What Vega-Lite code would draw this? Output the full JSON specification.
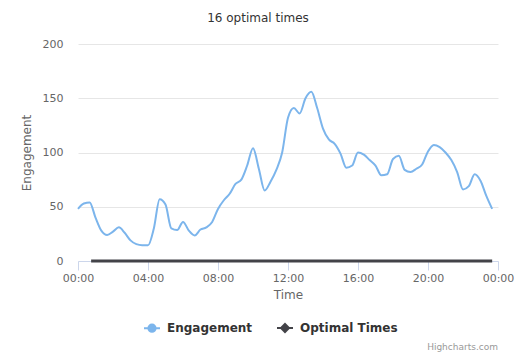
{
  "$schema": "https://vega.github.io/schema/vega-lite/v6.json",
  "width": 420,
  "height": 217,
  "autosize": {"type": "none"},
  "padding": {"left": 78, "top": 44, "right": 17, "bottom": 103},
  "background": "#ffffff",
  "config": {
    "font": "DejaVu Sans",
    "view": {"stroke": null}
  },
  "title": {
    "text": "16 optimal times",
    "fontSize": 12,
    "fontWeight": "normal",
    "color": "#333333",
    "font": "DejaVu Sans",
    "offset": 13,
    "dx": -30
  },
  "data": {
    "values": [
      {"time": "2024-01-01T00:00", "series": "Engagement", "value": 48},
      {"time": "2024-01-01T00:20", "series": "Engagement", "value": 53},
      {"time": "2024-01-01T00:40", "series": "Engagement", "value": 54},
      {"time": "2024-01-01T01:00", "series": "Engagement", "value": 40},
      {"time": "2024-01-01T01:20", "series": "Engagement", "value": 28},
      {"time": "2024-01-01T01:40", "series": "Engagement", "value": 24},
      {"time": "2024-01-01T02:00", "series": "Engagement", "value": 27},
      {"time": "2024-01-01T02:20", "series": "Engagement", "value": 31},
      {"time": "2024-01-01T02:40", "series": "Engagement", "value": 26},
      {"time": "2024-01-01T03:00", "series": "Engagement", "value": 19},
      {"time": "2024-01-01T03:20", "series": "Engagement", "value": 15.5},
      {"time": "2024-01-01T03:40", "series": "Engagement", "value": 14.5},
      {"time": "2024-01-01T04:00", "series": "Engagement", "value": 14.5},
      {"time": "2024-01-01T04:20", "series": "Engagement", "value": 30},
      {"time": "2024-01-01T04:40", "series": "Engagement", "value": 57},
      {"time": "2024-01-01T05:00", "series": "Engagement", "value": 52},
      {"time": "2024-01-01T05:20", "series": "Engagement", "value": 30},
      {"time": "2024-01-01T05:40", "series": "Engagement", "value": 28.5},
      {"time": "2024-01-01T06:00", "series": "Engagement", "value": 36},
      {"time": "2024-01-01T06:20", "series": "Engagement", "value": 28},
      {"time": "2024-01-01T06:40", "series": "Engagement", "value": 23.5},
      {"time": "2024-01-01T07:00", "series": "Engagement", "value": 29},
      {"time": "2024-01-01T07:20", "series": "Engagement", "value": 31},
      {"time": "2024-01-01T07:40", "series": "Engagement", "value": 36},
      {"time": "2024-01-01T08:00", "series": "Engagement", "value": 48},
      {"time": "2024-01-01T08:20", "series": "Engagement", "value": 56},
      {"time": "2024-01-01T08:40", "series": "Engagement", "value": 62},
      {"time": "2024-01-01T09:00", "series": "Engagement", "value": 71},
      {"time": "2024-01-01T09:20", "series": "Engagement", "value": 75},
      {"time": "2024-01-01T09:40", "series": "Engagement", "value": 88},
      {"time": "2024-01-01T10:00", "series": "Engagement", "value": 104},
      {"time": "2024-01-01T10:20", "series": "Engagement", "value": 85},
      {"time": "2024-01-01T10:40", "series": "Engagement", "value": 65},
      {"time": "2024-01-01T11:00", "series": "Engagement", "value": 73},
      {"time": "2024-01-01T11:20", "series": "Engagement", "value": 84},
      {"time": "2024-01-01T11:40", "series": "Engagement", "value": 100},
      {"time": "2024-01-01T12:00", "series": "Engagement", "value": 132},
      {"time": "2024-01-01T12:20", "series": "Engagement", "value": 141},
      {"time": "2024-01-01T12:40", "series": "Engagement", "value": 136},
      {"time": "2024-01-01T13:00", "series": "Engagement", "value": 150},
      {"time": "2024-01-01T13:20", "series": "Engagement", "value": 156},
      {"time": "2024-01-01T13:40", "series": "Engagement", "value": 141},
      {"time": "2024-01-01T14:00", "series": "Engagement", "value": 122},
      {"time": "2024-01-01T14:20", "series": "Engagement", "value": 112},
      {"time": "2024-01-01T14:40", "series": "Engagement", "value": 108},
      {"time": "2024-01-01T15:00", "series": "Engagement", "value": 99},
      {"time": "2024-01-01T15:20", "series": "Engagement", "value": 86},
      {"time": "2024-01-01T15:40", "series": "Engagement", "value": 88},
      {"time": "2024-01-01T16:00", "series": "Engagement", "value": 100},
      {"time": "2024-01-01T16:20", "series": "Engagement", "value": 98},
      {"time": "2024-01-01T16:40", "series": "Engagement", "value": 93},
      {"time": "2024-01-01T17:00", "series": "Engagement", "value": 88},
      {"time": "2024-01-01T17:20", "series": "Engagement", "value": 79},
      {"time": "2024-01-01T17:40", "series": "Engagement", "value": 80},
      {"time": "2024-01-01T18:00", "series": "Engagement", "value": 94},
      {"time": "2024-01-01T18:20", "series": "Engagement", "value": 97},
      {"time": "2024-01-01T18:40", "series": "Engagement", "value": 84},
      {"time": "2024-01-01T19:00", "series": "Engagement", "value": 82},
      {"time": "2024-01-01T19:20", "series": "Engagement", "value": 85},
      {"time": "2024-01-01T19:40", "series": "Engagement", "value": 89},
      {"time": "2024-01-01T20:00", "series": "Engagement", "value": 101},
      {"time": "2024-01-01T20:20", "series": "Engagement", "value": 107},
      {"time": "2024-01-01T20:40", "series": "Engagement", "value": 105},
      {"time": "2024-01-01T21:00", "series": "Engagement", "value": 100},
      {"time": "2024-01-01T21:20", "series": "Engagement", "value": 93},
      {"time": "2024-01-01T21:40", "series": "Engagement", "value": 82},
      {"time": "2024-01-01T22:00", "series": "Engagement", "value": 66},
      {"time": "2024-01-01T22:20", "series": "Engagement", "value": 69},
      {"time": "2024-01-01T22:40", "series": "Engagement", "value": 80},
      {"time": "2024-01-01T23:00", "series": "Engagement", "value": 74},
      {"time": "2024-01-01T23:20", "series": "Engagement", "value": 60},
      {"time": "2024-01-01T23:40", "series": "Engagement", "value": 48},
      {"time": "2024-01-01T00:45", "series": "Optimal Times", "value": 0},
      {"time": "2024-01-01T23:40", "series": "Optimal Times", "value": 0}
    ]
  },
  "layer": [
    {
      "mark": {"type": "line", "interpolate": "monotone"},
      "encoding": {
        "x": {
          "field": "time",
          "type": "temporal",
          "title": "Time",
          "scale": {"domain": ["2024-01-01T00:00", "2024-01-02T00:00"], "nice": false},
          "axis": {
            "format": "%H:%M",
            "values": ["2024-01-01T00:00", "2024-01-01T04:00", "2024-01-01T08:00", "2024-01-01T12:00", "2024-01-01T16:00", "2024-01-01T20:00", "2024-01-02T00:00"],
            "grid": false,
            "domainColor": "#ccd6eb",
            "tickColor": "#ccd6eb",
            "tickSize": 9,
            "labelPadding": 2,
            "labelFontSize": 11,
            "labelColor": "#666666",
            "labelFlush": false,
            "titleFontSize": 12,
            "titleFontWeight": "normal",
            "titleColor": "#666666",
            "titlePadding": 6
          }
        },
        "y": {
          "field": "value",
          "type": "quantitative",
          "title": "Engagement",
          "scale": {"domain": [0, 200], "nice": false},
          "axis": {
            "values": [0, 50, 100, 150, 200],
            "domain": false,
            "ticks": false,
            "gridColor": "#e6e6e6",
            "labelPadding": 15,
            "labelFontSize": 11,
            "labelColor": "#666666",
            "titleFontSize": 12,
            "titleFontWeight": "normal",
            "titleColor": "#666666",
            "titlePadding": 9
          }
        },
        "strokeWidth": {
          "condition": {"test": "datum.series === 'Optimal Times'", "value": 3},
          "value": 2
        },
        "color": {
          "field": "series",
          "type": "nominal",
          "scale": {"domain": ["Engagement", "Optimal Times"], "range": ["#7cb5ec", "#434348"]},
          "legend": {
            "orient": "none",
            "legendX": 65,
            "legendY": 275,
            "direction": "horizontal",
            "title": null,
            "labelFontSize": 12,
            "labelFontWeight": "bold",
            "labelColor": "#333333",
            "symbolSize": 256,
            "symbolStrokeWidth": 2,
            "labelOffset": 6,
            "columnPadding": 20,
            "encode": {
              "symbols": {
                "update": {
                  "shape": {"signal": "datum.value === 'Engagement' ? 'M-1,0L1,0M-0.45,0A0.45,0.45 0 1,0 0.45,0A0.45,0.45 0 1,0 -0.45,0' : 'M-1,0L1,0M0,-0.5L0.5,0L0,0.5L-0.5,0Z'"},
                  "fill": {"signal": "datum.value === 'Engagement' ? '#7cb5ec' : '#434348'"}
                }
              }
            }
          }
        }
      }
    },
    {
      "data": {"values": [{"credit": "Highcharts.com"}]},
      "mark": {"type": "text", "align": "right", "baseline": "middle", "fontSize": 9, "color": "#999999"},
      "encoding": {
        "x": {"datum": {"year": 2024, "month": 1, "date": 2, "hours": 0, "minutes": 0}, "type": "temporal"},
        "y": {"datum": -79, "type": "quantitative"},
        "text": {"field": "credit", "type": "nominal"}
      }
    }
  ]
}
